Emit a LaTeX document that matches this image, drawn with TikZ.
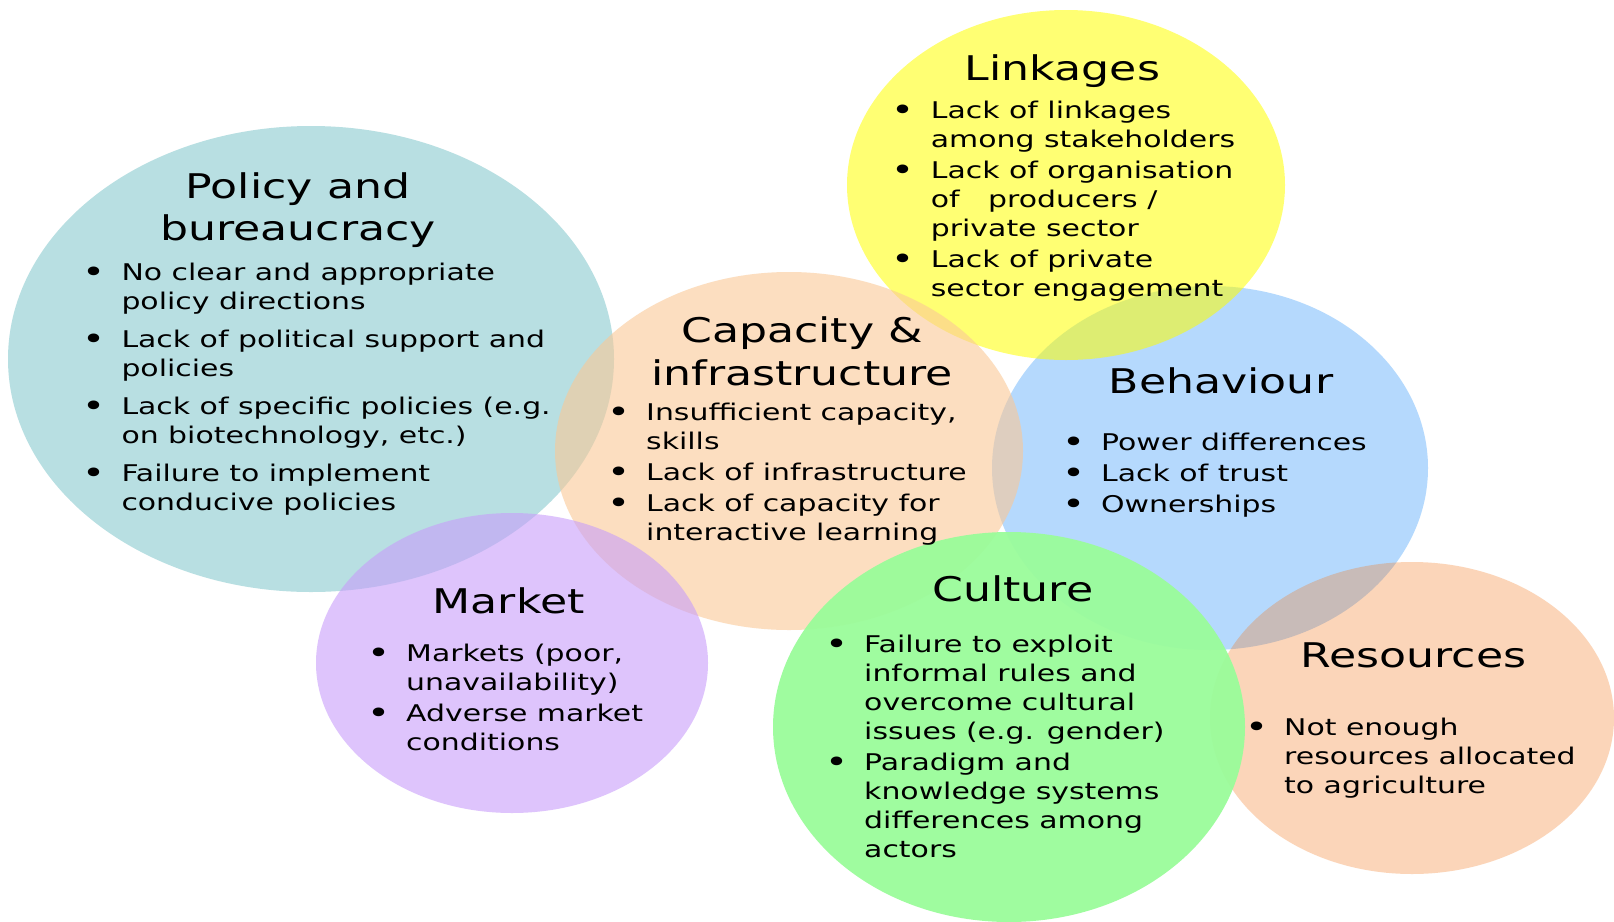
\documentclass[tikz,border=0pt]{standalone}
\usepackage{fontspec}
\setmainfont{DejaVu Sans}[FakeStretch=1.3]
\usepackage{xcolor}

\definecolor{policyc}{RGB}{137,202,207}
\definecolor{behavc}{RGB}{132,193,252}
\definecolor{linkc}{RGB}{255,255,0}
\definecolor{capac}{RGB}{250,200,150}
\definecolor{marketc}{RGB}{200,157,250}
\definecolor{resc}{RGB}{245,118,25}
\definecolor{cultc}{RGB}{154,252,154}

\newcommand{\bul}{\makebox[36pt][l]{\hspace{-3pt}\raisebox{-2pt}{\fontsize{30}{29}\selectfont\textbullet}}}
\newcommand{\ttl}[1]{\begin{tabular}[t]{@{}c@{}}#1\end{tabular}}
\newcommand{\lst}[1]{\begin{tabular}[t]{@{}l@{}l@{}}#1\end{tabular}}

\begin{document}
\begin{tikzpicture}[x=1pt,y=-1pt,
  blob/.style={fill opacity=0.6},
  title/.style={font=\fontsize{34}{42.5}\selectfont, anchor=base, inner sep=0pt},
  list/.style={font=\fontsize{23}{29}\selectfont, anchor=base west, inner sep=0pt}]
  \useasboundingbox (0,0) rectangle (1614,921);
  \fill[white] (0,0) rectangle (1614,921);

  % the seven blobs, bottom to top
  \fill[policyc, blob] (311,359) ellipse [x radius=303pt, y radius=233pt];
  \fill[behavc, blob] (1210,468) ellipse [x radius=218pt, y radius=182pt];
  \fill[linkc, blob, fill opacity=0.55] (1066,185) ellipse [x radius=219pt, y radius=175pt];
  \fill[capac, blob] (789,451) ellipse [x radius=234pt, y radius=179pt];
  \fill[marketc, blob] (512,663) ellipse [x radius=196pt, y radius=150pt];
  \fill[resc, blob, fill opacity=0.3] (1412,718) ellipse [x radius=202pt, y radius=156pt];
  \fill[cultc, blob, fill opacity=0.95] (1009,727) ellipse [x radius=236pt, y radius=195pt];

  % titles
  \node[title] (policy) at (298,198.3) {\ttl{Policy and\\bureaucracy}};
  \node[title] (capacity) at (802,342.7) {\ttl{Capacity \&\\infrastructure}};
  \node[title] (linkages) at (1062.5,80.7) {Linkages};
  \node[title] (behaviour) at (1221,393.3) {Behaviour};
  \node[title] (market) at (508.7,613.3) {Market};
  \node[title] (culture) at (1012.8,601.7) {Culture};
  \node[title] (resources) at (1413.3,667.3) {Resources};

  % lists
  \node[list] (policy-list) at (85.3,280) {\lst{%
    \bul & No clear and appropriate\\
         & policy directions\\[9pt]
    \bul & Lack of political support and\\
         & policies\\[9pt]
    \bul & Lack of specific policies (e.g.\\
         & on biotechnology, etc.)\\[9pt]
    \bul & Failure to implement\\
         & conducive policies}};
  \node[list] (capacity-list) at (610,420) {\lst{%
    \bul & Insufficient capacity,\\
         & skills\\[2pt]
    \bul & Lack of infrastructure\\[2pt]
    \bul & Lack of capacity for\\
         & interactive learning}};
  \node[list] (linkages-list) at (894.7,118.3) {\lst{%
    \bul & Lack of linkages\\
         & among stakeholders\\[2pt]
    \bul & Lack of organisation\\
         & of\ \ \ producers /\\
         & private sector\\[2pt]
    \bul & Lack of private\\
         & sector engagement}};
  \node[list] (behaviour-list) at (1065,450.7) {\lst{%
    \bul & Power differences\\[2pt]
    \bul & Lack of trust\\[2pt]
    \bul & Ownerships}};
  \node[list] (market-list) at (370,661.7) {\lst{%
    \bul & Markets (poor,\\
         & unavailability)\\[2pt]
    \bul & Adverse market\\
         & conditions}};
  \node[list] (culture-list) at (828,652.7) {\lst{%
    \bul & Failure to exploit\\
         & informal rules and\\
         & overcome cultural\\
         & issues (e.g. gender)\\[2pt]
    \bul & Paradigm and\\
         & knowledge systems\\
         & differences among\\
         & actors}};
  \node[list] (resources-list) at (1248,735) {\lst{%
    \bul & Not enough\\
         & resources allocated\\
         & to agriculture}};
\end{tikzpicture}
\end{document}
